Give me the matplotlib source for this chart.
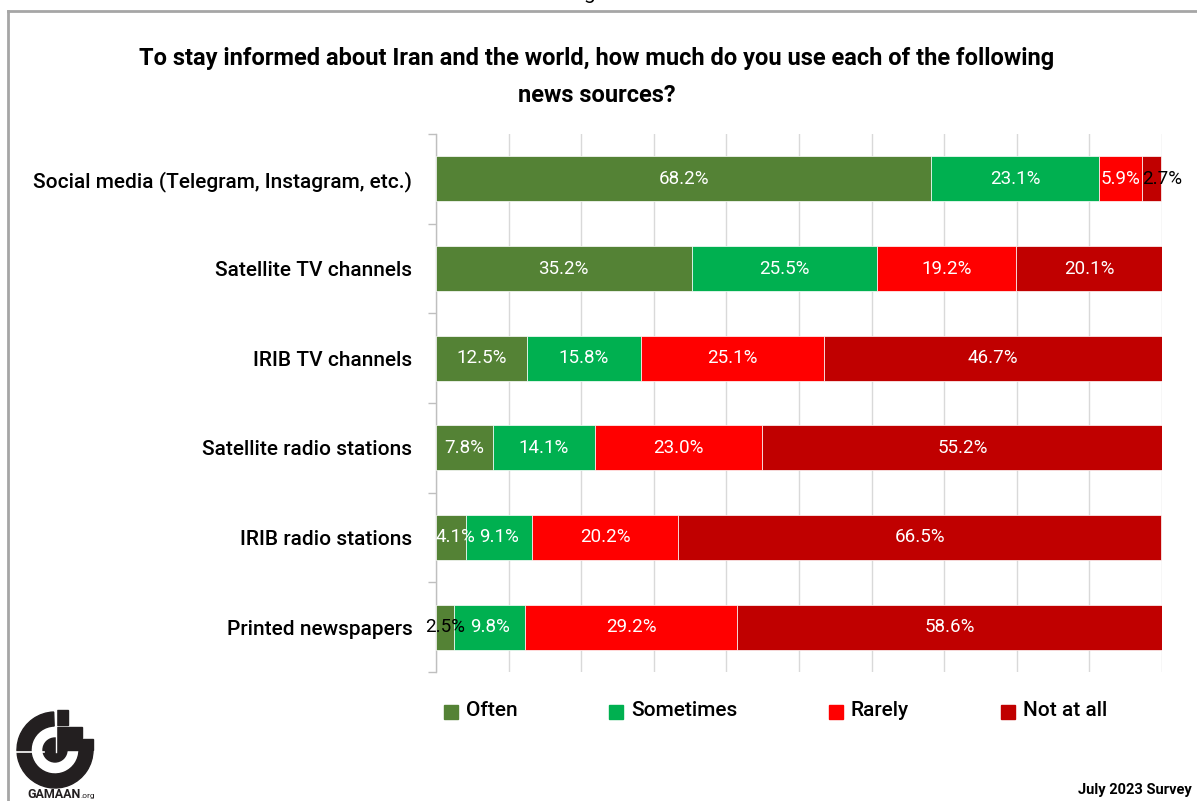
import matplotlib
matplotlib.use("Agg")
import matplotlib.pyplot as plt
from matplotlib.patches import Rectangle, Wedge, Circle
import numpy as np

plt.rcParams['font.family'] = ['Roboto', 'DejaVu Sans']

sources = [
    "Social media (Telegram, Instagram, etc.)",
    "Satellite TV channels",
    "IRIB TV channels",
    "Satellite radio stations",
    "IRIB radio stations",
    "Printed newspapers",
]
often = [68.2, 35.2, 12.5, 7.8, 4.1, 2.5]
sometimes = [23.1, 25.5, 15.8, 14.1, 9.1, 9.8]
rarely = [5.9, 19.2, 25.1, 23.0, 20.2, 29.2]
not_at_all = [2.7, 20.1, 46.7, 55.2, 66.5, 58.6]

series_names = ["Often", "Sometimes", "Rarely", "Not at all"]
series_colors = ["#548235", "#00b050", "#ff0000", "#c00000"]

# small horizontal nudges (in axis %) for labels on narrow segments: (row, series) -> shift
label_nudge = {(4, 0): 0.7, (0, 3): 1.5}

W, H = 1197, 801
fig = plt.figure(figsize=(W / 100, H / 100), dpi=100)

def fx(px):
    return px / W

def fy(py):
    return 1 - py / H

ax = fig.add_axes([fx(436), fy(672), fx(1162) - fx(436), fy(134) - fy(672)])

y = np.arange(len(sources))
left = np.zeros(len(sources))
for si, (name, vals, col) in enumerate(zip(series_names, [often, sometimes, rarely, not_at_all], series_colors)):
    vals = np.array(vals)
    ax.barh(y, vals, left=left, height=0.5, color=col, edgecolor="white",
            linewidth=0.5, label=name, zorder=3)
    for yi, l, v in zip(y, left, vals):
        small = v < 3.5
        xt = l + v / 2 + label_nudge.get((int(yi), si), 0.0)
        ax.text(xt, yi, f"{v:.1f}%", ha="center", va="center",
                fontsize=13.5, color="black" if small else "white", zorder=4)
    left = left + vals

ax.set_xlim(0, 100)
ax.set_ylim(len(sources) - 0.5, -0.5)
ax.set_xticks(np.arange(0, 101, 10))
ax.xaxis.grid(True, color="#d9d9d9", linewidth=1.0, zorder=0)
ax.tick_params(axis="x", length=0, labelbottom=False)

# category labels with boundary tick marks
ax.set_yticks(y)
ax.set_yticklabels(sources, fontsize=15, fontweight=500)
ax.tick_params(axis="y", which="major", length=0, pad=17)
ax.set_yticks(np.arange(-0.5, len(sources), 1.0), minor=True)
ax.tick_params(axis="y", which="minor", length=6, color="#bfbfbf", width=1)

for s in ["top", "right", "bottom"]:
    ax.spines[s].set_visible(False)
ax.spines["left"].set_color("#bfbfbf")
ax.spines["left"].set_linewidth(1)

# title
fig.text(fx(597), fy(58), "To stay informed about Iran and the world, how much do you use each of the following",
         ha="center", va="center", fontsize=17, fontweight="bold")
fig.text(fx(597), fy(96), "news sources?", ha="center", va="center", fontsize=17, fontweight="bold")

# legend
legend_x = [444, 609, 829, 1001]
for x0, name, col in zip(legend_x, series_names, series_colors):
    fig.patches.append(Rectangle((fx(x0), fy(719)), fx(14), 14 / H, color=col,
                                 transform=fig.transFigure, figure=fig))
    fig.text(fx(x0 + 22), fy(710), name, ha="left", va="center", fontsize=15, fontweight=500)

# frame around the chart
fig.add_artist(plt.Line2D([fx(8), 1], [fy(11), fy(11)], color="#a6a6a6", lw=2,
                          transform=fig.transFigure))
fig.add_artist(plt.Line2D([fx(8), fx(8)], [fy(11), 0], color="#a6a6a6", lw=2,
                          transform=fig.transFigure))
fig.text(fx(590), fy(-1), "g", ha="center", va="baseline", fontsize=15)

# GAMAAN logo
lax = fig.add_axes([0, 0, 1, 1], zorder=5)
lax.set_xlim(0, W)
lax.set_ylim(H, 0)
lax.axis("off")
lax.patch.set_alpha(0)
cx, cy = 55, 750
lax.add_patch(Wedge((cx, cy), 38, 0, 268, width=14, color="#231f20"))
lax.add_patch(Circle((cx, cy), 12, color="#231f20"))
lax.add_patch(Rectangle((57, 710), 11, 15, color="#231f20"))
lax.add_patch(Rectangle((57, 726.5), 25, 11, color="#231f20"))
lax.add_patch(Rectangle((57, 738.5), 36, 11.5, color="#231f20"))
lax.plot([15, 44], [751.5, 751.5], color="white", lw=1.2)
lax.plot([55.5, 55.5], [708, 752], color="white", lw=1.0)
lax.text(27, 795, "GAMAAN", fontsize=9, fontweight="bold", ha="left", va="center", color="#231f20")
lax.text(80, 796, ".org", fontsize=6, ha="left", va="center", color="#231f20")

fig.text(fx(1192), fy(790), "July 2023 Survey", ha="right", va="center", fontsize=10.5, fontweight="bold")

fig.savefig("out.png", dpi=100, facecolor="white")
